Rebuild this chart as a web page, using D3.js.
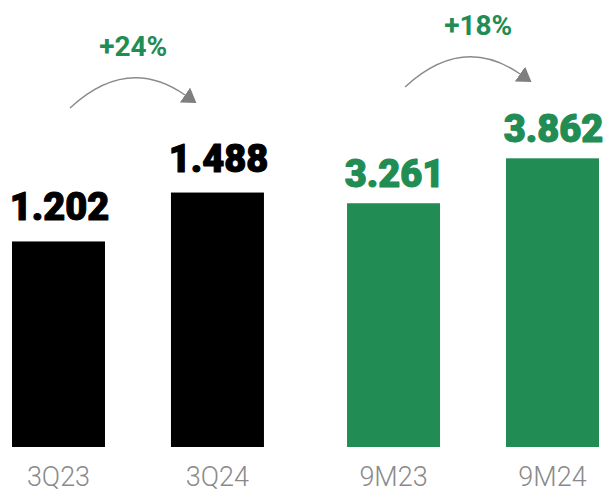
<!DOCTYPE html>
<html>
<head>
<meta charset="utf-8">
<script src="https://cdn.jsdelivr.net/npm/d3@7"></script>
<style>
  html, body { margin: 0; padding: 0; background: #fff; }
  svg { display: block; }
</style>
</head>
<body>
<svg id="chart" width="610" height="492"></svg>
<script>
// Quarterly and year-to-date figures
const quarterCategories = ["3Q23", "3Q24"];
const quarterValues = [1.202, 1.488];
const ytdCategories = ["9M23", "9M24"];
const ytdValues = [3.261, 3.862];
const growthLabels = ["+24%", "+18%"];

const baseY = 447;
const GREEN = "#218c53";
const GREY = "#8a8a8a";

const svg = d3.select("#chart");

// Two panels, each with its own band scale and value scale
const groupScale = d3.scaleBand()
  .domain(["quarter", "ytd"])
  .range([12, 599])
  .paddingInner(0.248)
  .paddingOuter(0);

const panels = [
  { key: "quarter", cats: quarterCategories, vals: quarterValues, color: "#000000",
    y: d3.scaleLinear().domain([0, 2]).range([baseY, baseY - 342]), labelGap: 21,
    arrowY: 108, textDx: 0 },
  { key: "ytd", cats: ytdCategories, vals: ytdValues, color: GREEN,
    y: d3.scaleLinear().domain([0, 4]).range([baseY, baseY - 299]), labelGap: 16,
    arrowY: 87, textDx: 10 }
];

// Arrow head marker: base sits at the end of the curve
svg.append("defs").append("marker")
  .attr("id", "arrowHead")
  .attr("viewBox", "0 0 14 18")
  .attr("refX", 0).attr("refY", 9)
  .attr("markerWidth", 14).attr("markerHeight", 18)
  .attr("markerUnits", "userSpaceOnUse")
  .attr("orient", "auto")
  .append("path")
  .attr("d", "M0,0 L14,9 L0,18 Z")
  .attr("fill", "#7f7f7f");

panels.forEach((p, gi) => {
  const x = d3.scaleBand()
    .domain(p.cats)
    .range([groupScale(p.key), groupScale(p.key) + groupScale.bandwidth()])
    .paddingInner(0.415)
    .paddingOuter(0);

  const data = p.cats.map((c, i) => ({ cat: c, val: p.vals[i] }));
  const g = svg.append("g");

  g.selectAll("rect").data(data).join("rect")
    .attr("x", d => x(d.cat))
    .attr("y", d => p.y(d.val))
    .attr("width", x.bandwidth())
    .attr("height", d => baseY - p.y(d.val))
    .attr("fill", p.color);

  // value labels (heavy weight, thickened with a matching outline)
  g.selectAll("text.value").data(data).join("text")
    .attr("class", "value")
    .attr("x", d => x(d.cat) + x.bandwidth() / 2 + 1)
    .attr("y", d => p.y(d.val) - p.labelGap)
    .attr("text-anchor", "middle")
    .attr("font-family", "Roboto, sans-serif")
    .attr("font-weight", 900)
    .attr("font-size", 38)
    .attr("fill", p.color)
    .attr("stroke", p.color)
    .attr("stroke-width", 1.1)
    .attr("stroke-linejoin", "round")
    .text(d => d.val.toFixed(3));

  // category axis labels
  g.selectAll("text.cat").data(data).join("text")
    .attr("class", "cat")
    .attr("x", d => x(d.cat) + x.bandwidth() / 2)
    .attr("y", 486)
    .attr("text-anchor", "middle")
    .attr("font-family", "Roboto, sans-serif")
    .attr("font-weight", 300)
    .attr("font-size", 27)
    .attr("fill", GREY)
    .text(d => d.cat);

  // growth arrow from the first bar towards the second
  const sx = x(p.cats[0]) + x.bandwidth() / 2 + 11.5;
  const tipX = x(p.cats[1]) + x.bandwidth() / 2 - 21;
  const sy = p.arrowY;
  const ex = tipX - 11.5, ey = sy - 13;
  const cx = ex - 57.5, cy = ey - 40;
  g.append("path")
    .attr("d", `M${sx},${sy} Q${cx},${cy} ${ex},${ey}`)
    .attr("fill", "none")
    .attr("stroke", GREY)
    .attr("stroke-width", 1.4)
    .attr("marker-end", "url(#arrowHead)");

  g.append("text")
    .attr("x", (sx + tipX) / 2 + p.textDx)
    .attr("y", sy - 52)
    .attr("text-anchor", "middle")
    .attr("font-family", "Roboto, sans-serif")
    .attr("font-weight", 700)
    .attr("font-size", 28)
    .attr("fill", GREEN)
    .text(growthLabels[gi]);
});
</script>
</body>
</html>
